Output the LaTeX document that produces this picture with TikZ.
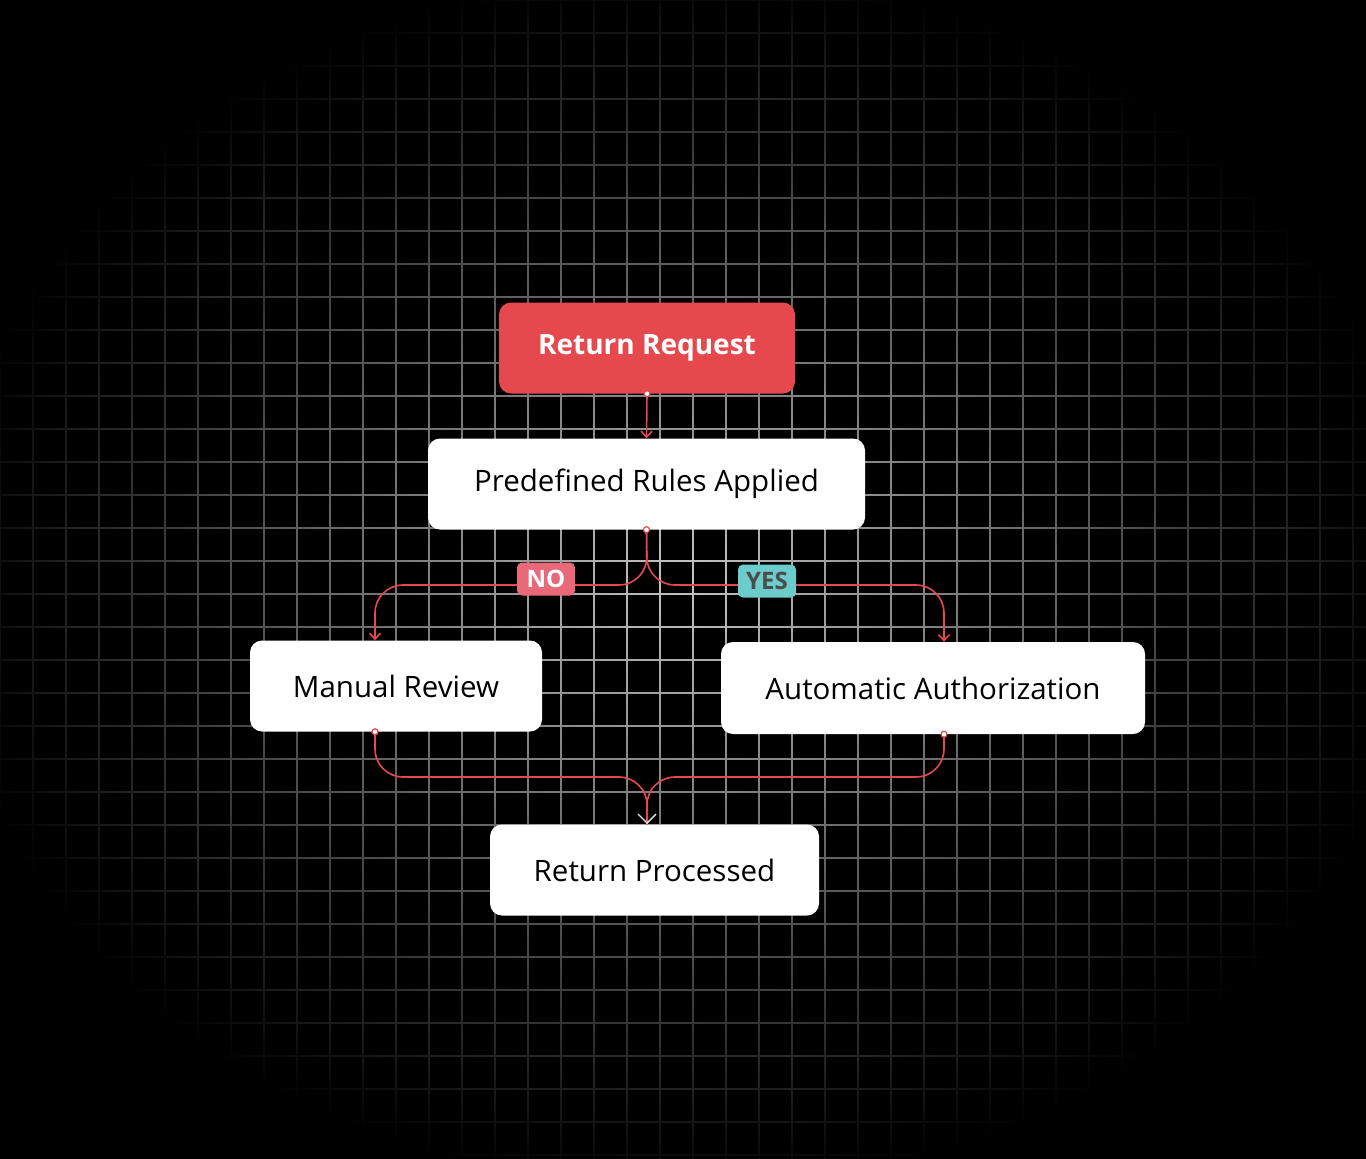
\documentclass[tikz,border=0pt]{standalone}
\usepackage{fontspec}
\setmainfont{Open Sans}
\usetikzlibrary{fadings,arrows.meta}
\tikzfading[name=vig, inner color=transparent!100, outer color=transparent!0]
\begin{document}
\begin{tikzpicture}[x=1pt,y=-1pt,
  box/.style={draw=none,fill=white,rounded corners=12pt,font=\fontsize{29.5}{32}\selectfont,text=black,inner sep=0pt},
  redbox/.style={box,fill=red1,text=white,font=\fontsize{28}{32}\selectfont\bfseries},
  conn/.style={draw=red1,line width=1.6pt,-{Straight Barb[length=6pt,width=11pt]},rounded corners=28pt},
  tag/.style={rounded corners=5pt,inner sep=0pt,minimum width=58pt,minimum height=33pt,font=\fontsize{24}{28}\selectfont\bfseries},
  dot/.style={circle,draw=red1,fill=white,line width=1.2pt,inner sep=0pt,minimum size=6pt}]
\definecolor{red1}{HTML}{E5484D}
\definecolor{teal1}{HTML}{6CCCCC}
\definecolor{pink1}{HTML}{E86A7A}
\useasboundingbox (0,0) rectangle (1366,1159);
\fill[black] (0,0) rectangle (1366,1159);
\draw[gray!45,line width=1.2pt,step=33pt] (0,0) grid (1366,1159);
\fill[black,path fading=vig] (-60,-30) rectangle (1426,1189);
\node[redbox,minimum width=296pt,minimum height=91pt] (rr) at (647,348) {Return Request};
\node[box,minimum width=437pt,minimum height=91pt] (pr) at (646.5,484) {Predefined Rules Applied};
\node[box,minimum width=292pt,minimum height=91pt] (mr) at (396,686) {Manual Review};
\node[box,minimum width=424pt,minimum height=92pt] (aa) at (933,688) {Automatic Authorization};
\node[box,minimum width=329pt,minimum height=91pt] (rp) at (654.5,870) {Return Processed};
\coordinate (mrT) at ([xshift=-21pt]mr.north);
\coordinate (aaT) at ([xshift=11pt]aa.north);
\coordinate (mrB) at ([xshift=-21pt]mr.south);
\coordinate (aaB) at ([xshift=11pt]aa.south);
\coordinate (rpT) at ([xshift=-7.5pt]rp.north);
\draw[conn] (rr.south) -- (pr.north);
\draw[conn] (pr.south) -- (647,585) -- (375,585) -- (mrT);
\draw[conn] (pr.south) -- (647,585) -- (944,585) -- (aaT);
\draw[conn,-] (mrB) -- (375,777) -- (647,777) -- (rpT);
\draw[conn,-] (aaB) -- (944,777) -- (647,777) -- (rpT);
\draw[white!80!gray,line width=1.4pt] (638,814) -- (647,823) -- (656,814);
\node[dot] (d1) at (rr.south) {};
\node[dot] (d2) at (pr.south) {};
\node[dot] (d3) at (mrB) {};
\node[dot] (d4) at (aaB) {};
\node[tag,fill=pink1,text=white] (no) at (546,579) {NO};
\node[tag,fill=teal1,text=black!70] (yes) at (767,581) {YES};
\end{tikzpicture}
\end{document}
